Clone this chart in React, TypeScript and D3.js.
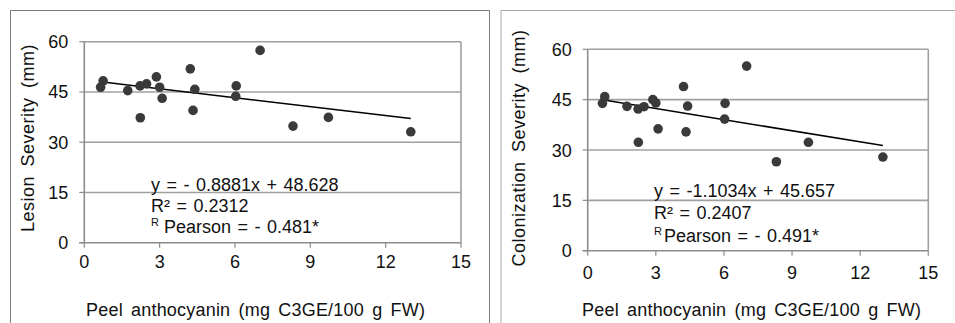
import React, { useEffect, useRef } from "react";
import * as d3 from "d3";

const anthocyanin = [0.65, 0.75, 1.73, 2.22, 2.23, 2.48, 2.87, 3.0, 3.1, 4.22, 4.4, 4.33, 6.05, 6.03, 7.0, 8.31, 9.72, 13.0];
const lesionSeverity = [46.4, 48.3, 45.4, 46.8, 37.3, 47.4, 49.5, 46.4, 43.1, 51.9, 45.8, 39.5, 46.8, 43.7, 57.4, 34.8, 37.4, 33.1];
const colonizationSeverity = [43.9, 45.9, 43.0, 42.2, 32.3, 42.9, 45.0, 44.0, 36.3, 48.9, 43.1, 35.4, 43.9, 39.2, 55.0, 26.5, 32.3, 27.9];
const xTicks = [0, 3, 6, 9, 12, 15];
const yTicks = [0, 15, 30, 45, 60];

const xTitle = "Peel anthocyanin (mg C3GE/100 g FW)";

type PanelSpec = {
  values: number[];
  yTitle: string;
  slope: number;
  intercept: number;
  eq: string;
  r2: string;
  pearson: string;
  pearsonGap: number;
  left: number;
  right: number;
  top: number;
  bottom: number;
  titleX: number;
  titleY: number;
  tickGap: number;
  eqX: number;
  eqY: number;
  eqStep: number;
  xTitleX: number;
  frame: string;
  frameColor: string;
};

const panels: PanelSpec[] = [
  {
    values: lesionSeverity,
    yTitle: "Lesion Severity (mm)",
    slope: -0.8881,
    intercept: 48.628,
    eq: "y = - 0.8881x + 48.628",
    r2: "R² = 0.2312",
    pearson: "Pearson = - 0.481*",
    pearsonGap: 5,
    left: 84.3, right: 461, top: 41.7, bottom: 242.7,
    titleX: 34, titleY: 138, tickGap: 25,
    eqX: 151, eqY: 190.5, eqStep: 21, xTitleX: 86,
    frame: "M10.5,323V10.5H489.5V323",
    frameColor: "#7a7a7a",
  },
  {
    values: colonizationSeverity,
    yTitle: "Colonization Severity (mm)",
    slope: -1.1034,
    intercept: 45.657,
    eq: "y = -1.1034x + 45.657",
    r2: "R² = 0.2407",
    pearson: "Pearson = - 0.491*",
    pearsonGap: 2,
    left: 587.7, right: 928.3, top: 49.3, bottom: 250.7,
    titleX: 525, titleY: 148, tickGap: 28,
    eqX: 654, eqY: 196.5, eqStep: 22.5, xTitleX: 582,
    frame: "M501,323V10.5H955",
    frameColor: "#aaaaaa",
  },
];

function Chart() {
  const svgRef = useRef<SVGSVGElement>(null);

  useEffect(() => {
    if (!svgRef.current) return;
    const svg = d3.select(svgRef.current);
    svg.selectAll("*").remove();

    panels.forEach((p) => {
      const x = d3.scaleLinear().domain([0, 15]).range([p.left, p.right]);
      const y = d3.scaleLinear().domain([0, 60]).range([p.bottom, p.top]);
      const g = svg.append("g").attr("font-family", "'Liberation Sans', Arial, sans-serif");

      // panel frame
      g.append("path").attr("d", p.frame).attr("fill", "none")
        .attr("stroke", p.frameColor).attr("stroke-width", 1);

      // gridlines
      g.selectAll(".grid").data(yTicks.slice(1)).join("line")
        .attr("x1", p.left).attr("x2", p.right)
        .attr("y1", (d) => y(d)).attr("y2", (d) => y(d))
        .attr("stroke", "#a0a0a0").attr("stroke-width", 1.6);

      // right border
      g.append("line").attr("x1", p.right).attr("x2", p.right)
        .attr("y1", p.top).attr("y2", p.bottom)
        .attr("stroke", "#a0a0a0").attr("stroke-width", 1.6);

      // axes
      g.append("line").attr("x1", p.left).attr("x2", p.left)
        .attr("y1", p.top).attr("y2", p.bottom)
        .attr("stroke", "#8c8c8c").attr("stroke-width", 1.6);
      g.append("line").attr("x1", p.left - 5).attr("x2", p.right)
        .attr("y1", p.bottom).attr("y2", p.bottom)
        .attr("stroke", "#8c8c8c").attr("stroke-width", 1.6);

      g.selectAll(".ytick").data(yTicks).join("line")
        .attr("x1", p.left - 5).attr("x2", p.left)
        .attr("y1", (d) => y(d)).attr("y2", (d) => y(d))
        .attr("stroke", "#8c8c8c").attr("stroke-width", 1.2);
      g.selectAll(".xtick").data(xTicks).join("line")
        .attr("x1", (d) => x(d)).attr("x2", (d) => x(d))
        .attr("y1", p.bottom).attr("y2", p.bottom + 5)
        .attr("stroke", "#8c8c8c").attr("stroke-width", 1.2);

      // tick labels
      g.selectAll(".ylab").data(yTicks).join("text")
        .attr("x", p.left - 16).attr("y", (d) => y(d) + 6.5)
        .attr("text-anchor", "end").attr("font-size", 18).attr("fill", "#111")
        .text((d) => d);
      g.selectAll(".xlab").data(xTicks).join("text")
        .attr("x", (d) => x(d)).attr("y", p.bottom + p.tickGap)
        .attr("text-anchor", "middle").attr("font-size", 18).attr("fill", "#111")
        .text((d) => d);

      // axis titles
      g.append("text")
        .attr("transform", `translate(${p.titleX},${p.titleY}) rotate(-90)`)
        .attr("text-anchor", "middle").attr("font-size", 18)
        .attr("letter-spacing", 0.5).attr("word-spacing", 4).attr("fill", "#111")
        .text(p.yTitle);
      g.append("text")
        .attr("x", p.xTitleX).attr("y", 316)
        .attr("font-size", 18).attr("letter-spacing", 0.2).attr("word-spacing", 3)
        .attr("fill", "#111").text(xTitle);

      // trend line
      const xr = d3.extent(anthocyanin) as [number, number];
      g.append("line")
        .attr("x1", x(xr[0])).attr("y1", y(p.slope * xr[0] + p.intercept))
        .attr("x2", x(xr[1])).attr("y2", y(p.slope * xr[1] + p.intercept))
        .attr("stroke", "#000").attr("stroke-width", 1.5);

      // points
      g.selectAll(".pt").data(p.values).join("circle")
        .attr("cx", (d, i) => x(anthocyanin[i]))
        .attr("cy", (d) => y(d))
        .attr("r", 4.8)
        .attr("fill", "#3a3a3a");

      // equation block
      const eq = g.append("g").attr("font-size", 18).attr("fill", "#111")
        .attr("word-spacing", 1.5);
      eq.append("text").attr("x", p.eqX).attr("y", p.eqY).text(p.eq);
      eq.append("text").attr("x", p.eqX).attr("y", p.eqY + p.eqStep).text(p.r2);
      const t3 = eq.append("text").attr("x", p.eqX).attr("y", p.eqY + 2 * p.eqStep);
      t3.append("tspan").attr("font-size", 11).attr("dy", -7).text("R");
      t3.append("tspan").attr("dy", 7).attr("dx", p.pearsonGap).text(p.pearson);
    });
  }, []);

  return (
    <svg ref={svgRef} width={955} height={323}
      style={{ position: "absolute", left: 0, top: 0, display: "block", background: "#fff" }} />
  );
}

export default function App() {
  return <Chart />;
}
